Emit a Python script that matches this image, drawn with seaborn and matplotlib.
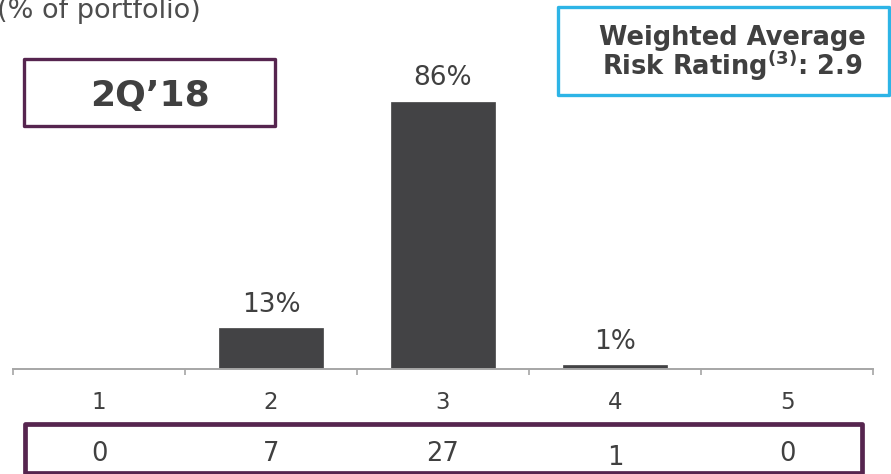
import matplotlib
matplotlib.use("Agg")
import matplotlib.pyplot as plt
import matplotlib.transforms as mtransforms
from matplotlib.patches import Rectangle
import seaborn as sns
import pandas as pd

# ---- data ----
ratings = ["1", "2", "3", "4", "5"]
pct_of_portfolio = [0, 13, 86, 1, 0]
loan_counts = [0, 7, 27, 1, 0]
period_label = "2Q\u201918"
subtitle = "(% of portfolio)"
wa_line1 = "Weighted Average"
wa_line2 = r"Risk Rating$^{\mathbf{(3)}}$: 2.9"

# ---- style ----
sns.set_theme(style="white")
plt.rcParams["font.family"] = ["DejaVu Sans"]
TEXT = "#404040"
BAR = "#434345"
PURPLE = "#56254F"
BLUE = "#2DB4E6"
AXIS = "#a6a6a6"

W, H = 891, 474
fig = plt.figure(figsize=(W / 100, H / 100), dpi=100)

def fx(px):
    return px / W

def fy(py):
    return 1 - py / H

ax_left, ax_right, ax_base = 13, 873, 368.5
ax = fig.add_axes([fx(ax_left), fy(ax_base), fx(ax_right - ax_left), ax_base / H])

df = pd.DataFrame({"rating": ratings, "pct": pct_of_portfolio})
sns.barplot(data=df, x="rating", y="pct", color=BAR, width=0.6,
            saturation=1, ax=ax, edgecolor=BAR, linewidth=0.5)

px_per_unit = 3.097
ax.set_xlim(-0.5, len(ratings) - 0.5)
ax.set_ylim(0, ax_base / px_per_unit)

for s in ["left", "top", "right"]:
    ax.spines[s].set_visible(False)
ax.spines["bottom"].set_color(AXIS)
ax.spines["bottom"].set_linewidth(1.4)
ax.set_xlabel("")
ax.set_ylabel("")
ax.set_yticks([])

# boundary ticks (major, no labels), centered labels (minor)
ax.set_xticks([i - 0.5 for i in range(len(ratings) + 1)])
ax.set_xticklabels([])
ax.set_xticks(range(len(ratings)), minor=True)
ax.set_xticklabels(ratings, minor=True)
ax.tick_params(axis="x", which="major", direction="out", length=4,
               width=1.2, color=AXIS, bottom=True)
ax.tick_params(axis="x", which="minor", length=0, pad=16.5,
               labelsize=16.5, labelcolor=TEXT)

# value labels above bars
for patch, v in zip(ax.patches, pct_of_portfolio):
    if v == 0:
        continue
    ax.annotate(f"{v}%", (patch.get_x() + patch.get_width() / 2, patch.get_height()),
                xytext=(0, 12), textcoords="offset points", ha="center",
                va="baseline", fontsize=19, color=TEXT)

# subtitle (partly cut at the top-left edge, as in the source)
fig.text(fx(-3), fy(18), subtitle, ha="left", va="baseline",
         fontsize=19.5, color="#4d4d4d")

# period box
fig.patches.append(Rectangle((fx(24), fy(126)), fx(275 - 24), (126 - 59) / H,
                             transform=fig.transFigure, fill=False,
                             edgecolor=PURPLE, linewidth=2.4, joinstyle="round"))
fig.text(fx(150), fy(93), period_label, ha="center", va="center_baseline",
         fontsize=26, fontweight="bold", color=TEXT)

# weighted average box
fig.patches.append(Rectangle((fx(558), fy(95)), fx(889 - 558), (95 - 7) / H,
                             transform=fig.transFigure, fill=False,
                             edgecolor=BLUE, linewidth=2.4, joinstyle="round"))
fig.text(fx(732), fy(45), wa_line1, ha="center", va="baseline",
         fontsize=18.5, fontweight="bold", color=TEXT)
fig.text(fx(732), fy(75), wa_line2, ha="center", va="baseline",
         fontsize=18.5, fontweight="bold", color=TEXT)

# counts box
fig.patches.append(Rectangle((fx(25), fy(472.5)), fx(862 - 25), (472.5 - 423.5) / H,
                             transform=fig.transFigure, fill=False,
                             edgecolor=PURPLE, linewidth=3.4, joinstyle="round"))
blend = mtransforms.blended_transform_factory(ax.transData, fig.transFigure)
for i, c in enumerate(loan_counts):
    yoff = 4 if c == 1 else 0
    ax.text(i, fy(451 + yoff), str(c), transform=blend, ha="center",
            va="center_baseline", fontsize=18.5, color=TEXT, clip_on=False)

fig.savefig("out.png", dpi=100)
